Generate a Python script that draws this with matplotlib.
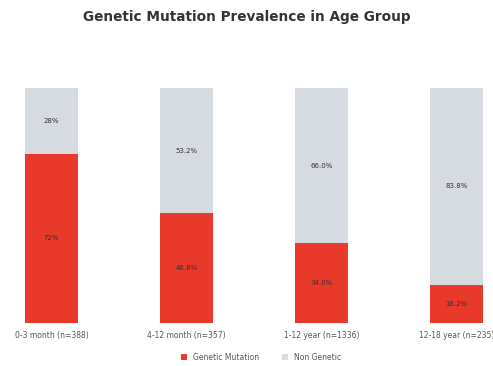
import matplotlib.pyplot as plt
import numpy as np

# data
categories = ['0-3 month (n=388)', '4-12 month (n=357)', '1-12 year (n=1336)', '12-18 year (n=235)']
genetic = [72.0, 46.8, 34.0, 16.2]
non_genetic = [28.0, 53.2, 66.0, 83.8]
genetic_labels = ['72%', '46.8%', '34.0%', '16.2%']
non_genetic_labels = ['28%', '53.2%', '66.0%', '83.8%']

red = '#e8392b'
grey = '#d6dae1'

fig = plt.figure(figsize=(4.93, 3.66), dpi=100)
ax = fig.add_axes([0, 43 / 366, 1, 235 / 366])

x = np.arange(len(categories))
width = 0.39
b1 = ax.bar(x, genetic, width, color=red, label='Genetic Mutation')
b2 = ax.bar(x, non_genetic, width, bottom=genetic, color=grey, label='Non Genetic')

for rect, txt in zip(b1, genetic_labels):
    ax.text(rect.get_x() + rect.get_width() / 2, rect.get_height() / 2, txt,
            ha='center', va='center', fontsize=5, color='#333333')
for rect, bot, txt in zip(b2, genetic, non_genetic_labels):
    ax.text(rect.get_x() + rect.get_width() / 2, bot + rect.get_height() / 2, txt,
            ha='center', va='center', fontsize=5, color='#333333')

ax.set_xlim(-51.5 / 135, 3 + 36.5 / 135)
ax.set_ylim(0, 100)
ax.set_xticks(x)
ax.set_xticklabels(categories, fontsize=5.5, color='#555555')
ax.tick_params(axis='x', length=0, pad=6)
ax.set_yticks([])
for s in ax.spines.values():
    s.set_visible(False)

fig.text(0.5, 1 - 17 / 366, 'Genetic Mutation Prevalence in Age Group',
         ha='center', va='center', fontsize=9.8, fontweight='bold', color='#333333')

fig.legend(loc='center', bbox_to_anchor=(0.53, 1 - 357 / 366), ncol=2, frameon=False,
           fontsize=5.5, handlelength=0.8, handleheight=0.8, columnspacing=3,
           labelcolor='#555555')

fig.savefig('out.png', dpi=100)
